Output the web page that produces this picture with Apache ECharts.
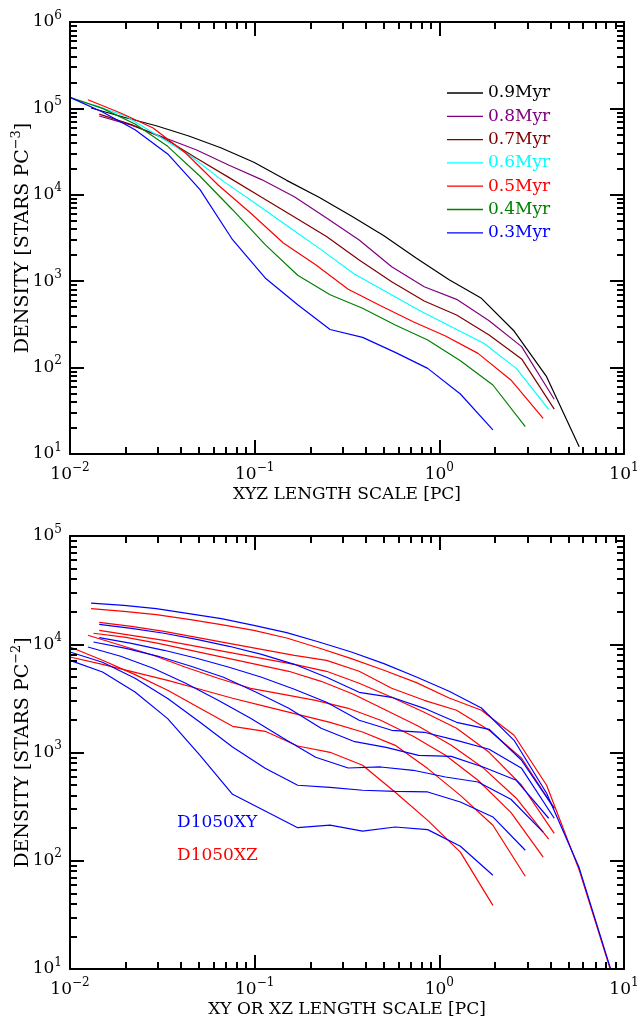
<!DOCTYPE html>
<html>
<head>
<meta charset="utf-8">
<script src="https://cdn.jsdelivr.net/npm/echarts@6/dist/echarts.min.js"></script>
<style>
  html, body { margin: 0; padding: 0; background: #ffffff; }
  #chart { width: 641px; height: 1019px; }
</style>
</head>
<body>
<div id="chart"></div>
<script>
// ---- radial bins (pc) for each snapshot ----
const rA = [0.01, 0.015, 0.0225, 0.0338, 0.0506, 0.0759, 0.114, 0.171, 0.256, 0.384, 0.577, 0.865, 1.30, 1.95, 2.92];
const rB = [0.0125, 0.0188, 0.0282, 0.0423, 0.0634, 0.095, 0.143, 0.214, 0.321, 0.481, 0.722, 1.08, 1.62, 2.44, 3.65];
const rC = [0.0134, 0.0201, 0.0301, 0.0452, 0.0678, 0.102, 0.153, 0.229, 0.343, 0.515, 0.772, 1.16, 1.74, 2.61, 3.91];
const rD = [0.0144, 0.0215, 0.0323, 0.0485, 0.0727, 0.109, 0.164, 0.245, 0.368, 0.552, 0.828, 1.24, 1.86, 2.79, 4.19];
const rE = [0.013, 0.0196, 0.0293, 0.044, 0.066, 0.099, 0.149, 0.223, 0.334, 0.501, 0.752, 1.13, 1.69, 2.54, 3.81, 5.72, 8.58];

// ---- 3D stellar density (stars pc^-3) ----
const rho03 = [134000, 91000, 56700, 29700, 11500, 3020, 1090, 535, 276, 224, 150, 98, 49.5, 19];
const rho04 = [134000, 100000, 66000, 36400, 16400, 6720, 2650, 1170, 698, 486, 311, 209, 120, 62.9, 20.7];
const rho05 = [126000, 88500, 59300, 30500, 13000, 6160, 2770, 1550, 806, 520, 340, 232, 146, 71.9, 25.9];
const rho06 = [110000, 81000, 48000, 28000, 14300, 7830, 4250, 2320, 1230, 756, 464, 297, 191, 98, 32.9];
const rho07 = [86000, 65000, 45000, 26500, 15800, 9350, 5550, 3290, 1760, 987, 590, 406, 238, 126, 33];
const rho08 = [81700, 64000, 46000, 33000, 22000, 15000, 9500, 5400, 3000, 1470, 864, 617, 349, 175, 43];
const rho09 = [101000, 79000, 63000, 47900, 34800, 23800, 14700, 9350, 5680, 3360, 1840, 1040, 634, 265, 78.5, 12.1];

// ---- projected surface density (stars pc^-2) ----
const sig09xy = [24000, 22900, 21350, 19200, 17260, 14960, 12810, 10490, 8480, 6625, 4985, 3676, 2577, 1296, 420, 86, 9.3];
const sig09xz = [21350, 20150, 18780, 17000, 15190, 13450, 11420, 9235, 7370, 5745, 4423, 3188, 2455, 1442, 498, 82, 9.0];
const sig08xy = [15290, 14040, 12630, 11110, 9575, 8075, 6526, 4952, 3598, 3235, 2560, 1901, 1638, 847, 305];
const sig08xz = [15950, 14650, 13170, 11590, 10200, 8984, 7906, 7106, 5625, 3919, 3035, 2455, 1604, 884, 305];
const sig07xy = [11520, 10200, 8794, 7418, 6126, 4952, 3836, 2909, 1984, 1604, 1537, 1296, 1071, 714, 247];
const sig07xz = [13450, 12100, 10880, 9575, 8425, 7418, 6526, 5625, 4358, 3235, 2351, 1673, 1004, 498, 179];
const sig06xy = [10490, 9175, 7740, 6257, 4952, 3598, 2560, 1673, 1269, 1117, 942, 922, 730, 554, 247];
const sig06xz = [12630, 11590, 10200, 8794, 7575, 6526, 5625, 4546, 3449, 2455, 1746, 1165, 714, 378, 158];
const sig05xy = [9432, 7740, 5995, 4358, 3035, 2070, 1353, 903, 719, 735, 685, 594, 534, 370, 184];
const sig05xz = [12100, 9779, 7906, 6126, 4848, 3919, 3449, 3035, 2560, 1984, 1411, 942, 554, 280, 108];
const sig04xy = [8480, 6814, 4848, 3147, 1901, 1124, 714, 498, 477, 448, 438, 432, 349, 254, 125];
const sig04xz = [7624, 6526, 5507, 4645, 3836, 3168, 2672, 2254, 1901, 1547, 1165, 710, 402, 213, 71.9];
const sig03xy = [7106, 5540, 3622, 2057, 942, 411, 288, 202, 213, 188, 205, 194, 136, 73.4];
const sig03xz = [9432, 7106, 5244, 3754, 2560, 1746, 1570, 1148, 1004, 762, 429, 236, 120, 38.7];

const ageNames = ['0.9Myr', '0.8Myr', '0.7Myr', '0.6Myr', '0.5Myr', '0.4Myr', '0.3Myr'];
const ageColors = ['#000000', '#800080', '#800000', '#00ffff', '#ff0000', '#008000', '#0000ff'];
const xyName = 'D1050XY';
const xzName = 'D1050XZ';

const FONT = 'DejaVu Serif';
const BLACK = '#000000';

function pairs(r, v) { return v.map((y, i) => [r[i], y]); }

function decadeLabel(v) {
  const e = Math.round(v);
  return '{b|10}{s|' + (e < 0 ? '\u2212' + (-e) : String(e)) + '}';
}
function majors(lo, hi) { const out = []; for (let d = lo; d <= hi; d++) out.push(d); return out; }
function minors(lo, hi) {
  const out = [];
  for (let d = lo; d < hi; d++) for (let k = 2; k <= 9; k++) out.push(d + Math.log10(k));
  return out;
}
const supStyle = { fontFamily: FONT, fontSize: 12, color: BLACK, padding: [0, 0, 13, 0] };
const supRich = {
  b: { fontFamily: FONT, fontSize: 17, color: BLACK },
  s: supStyle
};

// Frame axis in log10 units: draws one side of a panel's box with its ticks
function frameAxis(gridIndex, position, lo, hi, kind, extra) {
  const isMajor = kind === 'major';
  const ax = {
    type: 'value', gridIndex, position, min: lo, max: hi,
    axisLine: { show: isMajor, onZero: false, lineStyle: { color: BLACK, width: 2 } },
    axisTick: {
      show: true, inside: true, length: isMajor ? 14 : 7,
      customValues: isMajor ? majors(lo, hi) : minors(lo, hi),
      lineStyle: { color: BLACK, width: 2 }
    },
    axisLabel: { show: false },
    splitLine: { show: false },
    silent: true, z: 5
  };
  return Object.assign(ax, extra || {});
}
function labelled(lo, hi, margin) {
  return {
    axisLabel: {
      show: true, customValues: majors(lo, hi), margin,
      formatter: decadeLabel, rich: supRich
    }
  };
}

const xNameStyle = { fontFamily: FONT, fontSize: 17, color: BLACK };
const yNameStyle = { fontFamily: FONT, fontSize: 19, color: BLACK, rich: { s: { fontFamily: FONT, fontSize: 13, color: BLACK, padding: [0, 0, 13, 0] } } };

const xAxes = [];
const yAxes = [];
function buildPanel(g, yLo, yHi, xTitle, yTitle) {
  xAxes.push({ type: 'log', gridIndex: g, min: 0.01, max: 10, show: false });
  xAxes.push(frameAxis(g, 'bottom', -2, 1, 'major', Object.assign(labelled(-2, 1, 8), {
    name: xTitle, nameLocation: 'middle', nameGap: 32, nameMoveOverlap: false, nameTextStyle: xNameStyle
  })));
  xAxes.push(frameAxis(g, 'bottom', -2, 1, 'minor'));
  xAxes.push(frameAxis(g, 'top', -2, 1, 'major'));
  xAxes.push(frameAxis(g, 'top', -2, 1, 'minor'));

  yAxes.push({ type: 'log', gridIndex: g, min: Math.pow(10, yLo), max: Math.pow(10, yHi), show: false });
  yAxes.push(frameAxis(g, 'left', yLo, yHi, 'major', Object.assign(labelled(yLo, yHi, 8), {
    name: yTitle, nameLocation: 'middle', nameRotate: 90, nameGap: 34, nameMoveOverlap: false, nameTextStyle: yNameStyle
  })));
  yAxes.push(frameAxis(g, 'left', yLo, yHi, 'minor'));
  yAxes.push(frameAxis(g, 'right', yLo, yHi, 'major'));
  yAxes.push(frameAxis(g, 'right', yLo, yHi, 'minor'));
}
buildPanel(0, 1, 6, 'XYZ LENGTH SCALE [PC]', 'DENSITY [STARS PC{s|\u22123}]');
buildPanel(1, 1, 5, 'XY OR XZ LENGTH SCALE [PC]', 'DENSITY [STARS PC{s|\u22122}]');

function line(name, grid, r, v, color) {
  return {
    name, type: 'line', xAxisIndex: grid * 5, yAxisIndex: grid * 5,
    data: pairs(r, v), symbol: 'none', showSymbol: false, clip: true,
    lineStyle: { color, width: 1.2 }, itemStyle: { color },
    emphasis: { disabled: true }, silent: true, z: 3
  };
}

const topSeries = [
  line(ageNames[0], 0, rE, rho09, ageColors[0]),
  line(ageNames[1], 0, rD, rho08, ageColors[1]),
  line(ageNames[2], 0, rD, rho07, ageColors[2]),
  line(ageNames[3], 0, rC, rho06, ageColors[3]),
  line(ageNames[4], 0, rB, rho05, ageColors[4]),
  line(ageNames[5], 0, rA, rho04, ageColors[5]),
  line(ageNames[6], 0, rA, rho03, ageColors[6])
];
const blue = '#0000ff', red = '#ff0000';
// XZ profiles first so the XY profiles sit on top where they overlap
const bottomSeries = [
  line(xzName, 1, rE, sig09xz, red), line(xzName, 1, rD, sig08xz, red),
  line(xzName, 1, rD, sig07xz, red), line(xzName, 1, rC, sig06xz, red),
  line(xzName, 1, rB, sig05xz, red), line(xzName, 1, rA, sig04xz, red),
  line(xzName, 1, rA, sig03xz, red),
  line(xyName, 1, rE, sig09xy, blue), line(xyName, 1, rD, sig08xy, blue),
  line(xyName, 1, rD, sig07xy, blue), line(xyName, 1, rC, sig06xy, blue),
  line(xyName, 1, rB, sig05xy, blue), line(xyName, 1, rA, sig04xy, blue),
  line(xyName, 1, rA, sig03xy, blue)
];

const chart = echarts.init(document.getElementById('chart'), null, { renderer: 'canvas' });
chart.setOption({
  animation: false,
  backgroundColor: '#ffffff',
  grid: [
    { left: 70, top: 22, width: 554, height: 432, containLabel: false, outerBoundsMode: 'none' },
    { left: 70, top: 536, width: 554, height: 433, containLabel: false, outerBoundsMode: 'none' }
  ],
  legend: [
    {
      orient: 'vertical', left: 442, top: 79.5, itemWidth: 36, itemHeight: 1.3, itemGap: 6.3,
      icon: 'rect', selectedMode: false,
      textStyle: { fontFamily: FONT, fontSize: 17, lineHeight: 17 },
      data: ageNames.map((n, i) => ({ name: n, textStyle: { color: ageColors[i] } }))
    },
    {
      orient: 'vertical', left: 167, top: 809, itemWidth: 0, itemHeight: 12, itemGap: 16.3,
      icon: 'none', selectedMode: false,
      textStyle: { fontFamily: FONT, fontSize: 17, lineHeight: 17 },
      data: [
        { name: xyName, textStyle: { color: blue } },
        { name: xzName, textStyle: { color: red } }
      ]
    }
  ],
  xAxis: xAxes,
  yAxis: yAxes,
  series: topSeries.concat(bottomSeries)
});
</script>
</body>
</html>
